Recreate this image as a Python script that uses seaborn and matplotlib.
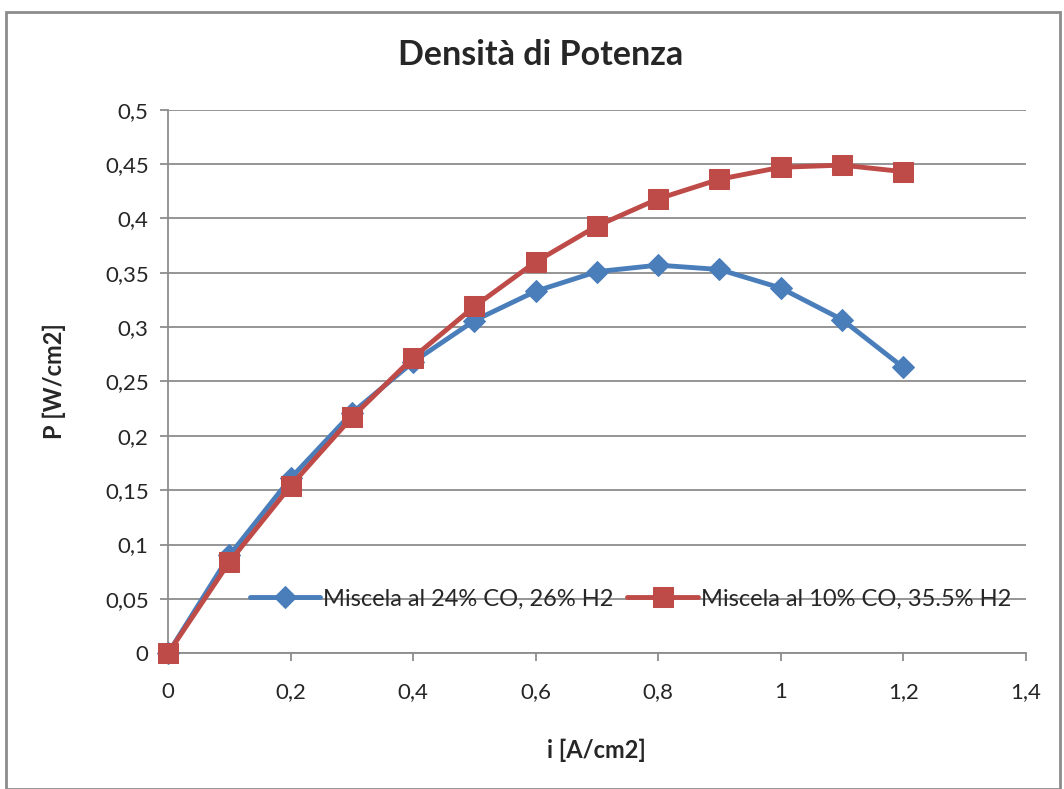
import pandas as pd
import matplotlib.pyplot as plt
import matplotlib.patches as patches
from matplotlib.ticker import FuncFormatter, MultipleLocator
import seaborn as sns

corrente = [0, 0.1, 0.2, 0.3, 0.4, 0.5, 0.6, 0.7, 0.8, 0.9, 1.0, 1.1, 1.2]
p_24co = [0, 0.090, 0.161, 0.221, 0.268, 0.306, 0.333, 0.351, 0.357, 0.353, 0.336, 0.307, 0.263]
p_10co = [0, 0.084, 0.154, 0.217, 0.272, 0.319, 0.360, 0.393, 0.418, 0.436, 0.447, 0.449, 0.443]
nome_24 = 'Miscela al 24% CO, 26% H2'
nome_10 = 'Miscela al 10% CO, 35.5% H2'

df = pd.DataFrame({'i': corrente * 2,
                   'P': p_24co + p_10co,
                   'serie': [nome_24] * len(corrente) + [nome_10] * len(corrente)})

sns.set_style('white')
plt.rcParams['font.family'] = ['Lato', 'DejaVu Sans']

fig = plt.figure(figsize=(10.64, 7.89), dpi=100)
ax = fig.add_axes([0.158, 0.172, 0.806, 0.689])

sns.lineplot(data=df[df['serie'] == nome_24], x='i', y='P', color='#4A7EBB', lw=3.5,
             marker='D', markersize=11, markeredgecolor='#4A7EBB', label=nome_24,
             clip_on=False, zorder=3, ax=ax)
sns.lineplot(data=df[df['serie'] == nome_10], x='i', y='P', color='#BE4B48', lw=3.5,
             marker='s', markersize=14, markeredgecolor='#BE4B48', label=nome_10,
             clip_on=False, zorder=4, ax=ax)

ax.set_xlim(0, 1.4)
ax.set_ylim(0, 0.5)
ax.xaxis.set_major_locator(MultipleLocator(0.2))
ax.yaxis.set_major_locator(MultipleLocator(0.05))
virgola = FuncFormatter(lambda v, pos: ('%g' % round(v, 3)).replace('.', ','))
ax.xaxis.set_major_formatter(virgola)
ax.yaxis.set_major_formatter(virgola)
ax.grid(axis='y', color='#8C8C8C', lw=1.3)
ax.set_axisbelow(True)
for s in ['top', 'right']:
    ax.spines[s].set_visible(False)
for s in ['left', 'bottom']:
    ax.spines[s].set_color('#8C8C8C')
    ax.spines[s].set_linewidth(1.3)
ax.tick_params(axis='both', which='major', length=6, width=1.3, color='#8C8C8C',
               labelsize=16, direction='out', pad=8, bottom=True, left=True)
ax.tick_params(axis='x', pad=15)

ax.set_xlabel('i [A/cm2]', fontsize=17, fontweight='bold', labelpad=26)
ax.set_ylabel('P [W/cm2]', fontsize=17, fontweight='bold', labelpad=28)
fig.text(541 / 1064, 1 - 55 / 789, 'Densità di Potenza', fontsize=24.5, fontweight='bold',
         ha='center', va='center')

ax.legend(loc='center left', bbox_to_anchor=(0.095, 0.1), ncol=2, frameon=False,
          fontsize=17, handlelength=3.0, handletextpad=0.1, columnspacing=0.6,
          borderaxespad=0, borderpad=0)

fig.patches.append(patches.Rectangle((0.006, 0.0), 0.99, 0.985, transform=fig.transFigure,
                                     fill=False, edgecolor='#8C8C8C', lw=2))

fig.savefig('out.png', dpi=100)
